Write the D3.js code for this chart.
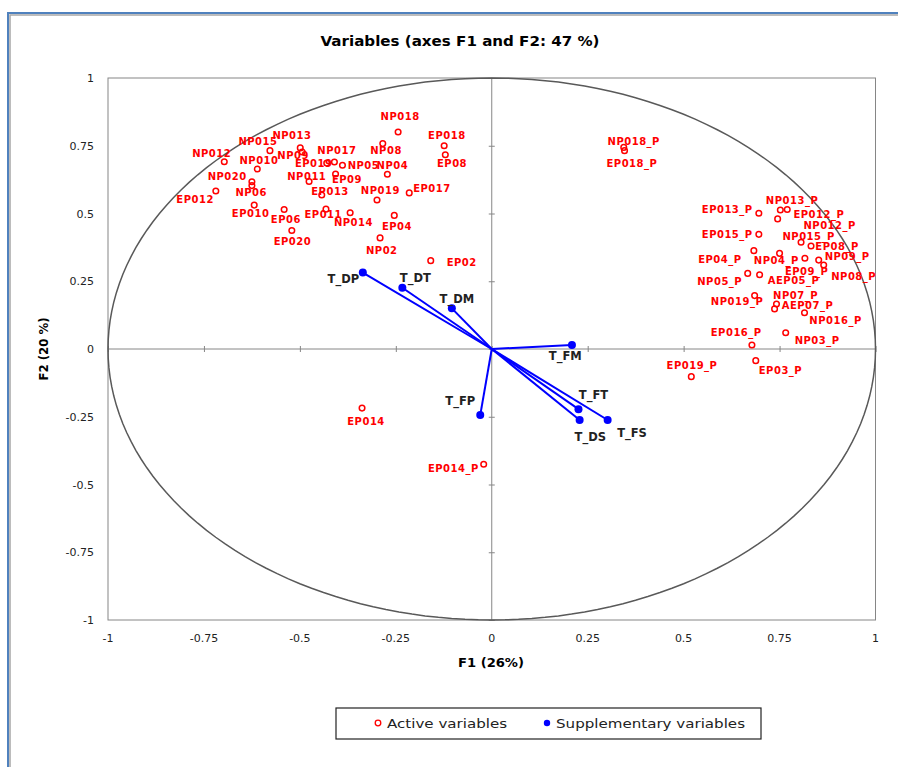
<!DOCTYPE html>
<html><head><meta charset="utf-8">
<script src="https://cdn.jsdelivr.net/npm/d3@7"></script>
<style>body{margin:0;background:#fff}</style>
</head><body>
<script>
// ---- data ----
const activeNames = ["NP012","NP015","NP013","NP09","NP010","NP020","NP06","EP012","EP010","EP06","EP020","NP011","EP019","NP017","NP05","NP04","EP09","EP013","NP019","EP017","EP011","NP014","EP04","NP02","EP02","NP018","EP018","EP08","NP08","EP014","EP014_P","NP018_P","EP018_P","EP013_P","NP013_P","EP012_P","NP012_P","EP015_P","NP015_P","EP08_P","EP04_P","NP04_P","EP09_P","NP09_P","NP08_P","NP05_P","AEP05_P","NP019_P","NP07_P","AEP07_P","NP016_P","EP016_P","NP03_P","EP03_P","EP019_P"];
const activeF1 = [-0.697,-0.578,-0.499,-0.494,-0.611,-0.625,-0.625,-0.719,-0.619,-0.541,-0.521,-0.476,-0.430,-0.410,-0.389,-0.272,-0.407,-0.443,-0.299,-0.215,-0.432,-0.369,-0.254,-0.291,-0.159,-0.244,-0.124,-0.121,-0.284,-0.338,-0.021,0.344,0.346,0.696,0.752,0.770,0.745,0.696,0.806,0.832,0.683,0.750,0.816,0.852,0.865,0.667,0.698,0.685,0.742,0.815,0.737,0.678,0.766,0.688,0.520];
const activeF2 = [0.691,0.732,0.742,0.727,0.664,0.617,0.603,0.583,0.531,0.515,0.437,0.618,0.686,0.690,0.678,0.645,0.646,0.568,0.550,0.576,0.516,0.503,0.493,0.410,0.326,0.801,0.750,0.717,0.758,-0.218,-0.425,0.744,0.732,0.501,0.513,0.515,0.480,0.423,0.394,0.380,0.363,0.353,0.335,0.328,0.310,0.279,0.274,0.197,0.166,0.134,0.148,0.015,0.060,-0.043,-0.102];

const suppNames = ["T_DP","T_DT","T_DM","T_FM","T_FP","T_FT","T_DS","T_FS"];
const suppF1 = [-0.336,-0.233,-0.104,0.209,-0.030,0.226,0.229,0.302];
const suppF2 = [0.282,0.226,0.150,0.015,-0.244,-0.222,-0.262,-0.262];

const tickValues = [-1,-0.75,-0.5,-0.25,0,0.25,0.5,0.75,1];
const tickLabels = ["-1","-0.75","-0.5","-0.25","0","0.25","0.5","0.75","1"];

const titleText = "Variables (axes F1 and F2: 47 %)";
const xTitle = "F1 (26%)";
const yTitle = "F2 (20 %)";
const legendLabels = ["Active variables","Supplementary variables"];

// ---- label layout (pixel offsets of label centre from the mark) ----
const activeLabelDx = [-12.6,-12,-8.3,-9,1.7,-24.7,-0.7,-20.7,-3.6,1.7,0.6,-2.3,-13,2.4,21,5,11.4,8.3,3.3,22.7,-2.7,3.3,2.7,1.7,31,2,2.7,6.7,3.3,4,-30.3,10,7.4,-31.6,11.7,31.6,52,-31.6,7.6,26,-34,-3.3,1.7,28.4,30,-28,34,-17.6,19,3,61,-15.7,31.4,24.7,0.7];
const activeLabelDy = [-8.4,-9.7,-13,3,-8.3,-5.7,7.3,8.3,8.3,9.7,11,-5.5,0,-12,0,-9,5,-3.3,-9.3,-4.7,5.7,10,10.7,12.7,1.6,-15.3,-10.7,8.6,7,13,4,-5.6,12.6,-4,-10,4.7,6.7,0,-5.6,0.7,8.6,7.4,13.4,-3.3,11,7.7,5.3,6,-9,-7,12,-12.7,7.3,10,-11];
const suppLabelDx = [-19.4,13,5,-6.7,-20,15,10.7,24.4];
const suppLabelDy = [6.6,-9.4,-9,11,-14.3,-14.3,16.7,13.3];

// ---- drawing ----
const W = 898, H = 767;
const svg = d3.select("body").append("svg").attr("width", W).attr("height", H);

// outer frame
svg.append("rect").attr("x",10).attr("y",15).attr("width",W).attr("height",H).attr("fill","none").attr("stroke","#a6a6a6").attr("stroke-width",1.5);
svg.append("rect").attr("x",8).attr("y",13).attr("width",W).attr("height",H).attr("fill","none").attr("stroke","#4f81bd").attr("stroke-width",2);

const x = d3.scaleLinear().domain([-1,1]).range([108,875.5]);
const y = d3.scaleLinear().domain([-1,1]).range([620,78]);
const grey = "#868686";

// plot box
svg.append("rect").attr("x",x(-1)).attr("y",y(1)).attr("width",x(1)-x(-1)).attr("height",y(-1)-y(1))
  .attr("fill","none").attr("stroke",grey).attr("stroke-width",1);

// zero axes with ticks using d3 axes
const xAxis = d3.axisBottom(x).tickValues(tickValues).tickSize(6).tickFormat("");
const gx = svg.append("g").attr("transform",`translate(0,${y(0)-3})`).call(xAxis);
const yAxis = d3.axisLeft(y).tickValues(tickValues).tickSize(6).tickFormat("");
const gy = svg.append("g").attr("transform",`translate(${x(0)+3},0)`).call(yAxis);
[gx,gy].forEach(g=>{g.select(".domain").remove(); g.selectAll("line").attr("stroke",grey);});
svg.append("line").attr("x1",x(-1)).attr("x2",x(1)).attr("y1",y(0)).attr("y2",y(0)).attr("stroke",grey);
svg.append("line").attr("x1",x(0)).attr("x2",x(0)).attr("y1",y(1)).attr("y2",y(-1)).attr("stroke",grey);

// tick labels
const tickFont = "'DejaVu Sans', sans-serif";
svg.append("g").selectAll("text").data(tickValues).join("text")
  .attr("x",d=>x(d)).attr("y",642).attr("text-anchor","middle")
  .attr("font-family",tickFont).attr("font-size",11).attr("fill","#222")
  .text((d,i)=>tickLabels[i]);
svg.append("g").selectAll("text").data(tickValues).join("text")
  .attr("x",94).attr("y",d=>y(d)+4).attr("text-anchor","end")
  .attr("font-family",tickFont).attr("font-size",11).attr("fill","#222")
  .text((d,i)=>tickLabels[i]);

// unit circle
const circ = d3.range(0,361,2).map(a=>[Math.cos(a*Math.PI/180),Math.sin(a*Math.PI/180)]);
svg.append("path").attr("d",d3.line().x(d=>x(d[0])).y(d=>y(d[1]))(circ))
  .attr("fill","none").attr("stroke","#595959").attr("stroke-width",1.5);

// titles
svg.append("text").attr("x",460).attr("y",46).attr("text-anchor","middle")
  .attr("font-family","'DejaVu Sans', sans-serif").attr("font-weight","bold").attr("font-size",14)
  .attr("textLength",279).attr("lengthAdjust","spacingAndGlyphs").text(titleText);
svg.append("text").attr("x",491).attr("y",667).attr("text-anchor","middle")
  .attr("font-family","'DejaVu Sans', sans-serif").attr("font-weight","bold").attr("font-size",13)
  .attr("textLength",66).attr("lengthAdjust","spacingAndGlyphs").text(xTitle);
svg.append("text").attr("transform","translate(48,349) rotate(-90)").attr("text-anchor","middle")
  .attr("font-family","'DejaVu Sans', sans-serif").attr("font-weight","bold").attr("font-size",13)
  .attr("textLength",63).attr("lengthAdjust","spacingAndGlyphs").text(yTitle);

// supplementary vectors
const supp = suppNames.map((n,i)=>({n, f1:suppF1[i], f2:suppF2[i], dx:suppLabelDx[i], dy:suppLabelDy[i]}));
svg.append("g").selectAll("line").data(supp).join("line")
  .attr("x1",x(0)).attr("y1",y(0)).attr("x2",d=>x(d.f1)).attr("y2",d=>y(d.f2))
  .attr("stroke","#0000ff").attr("stroke-width",2);
svg.append("g").selectAll("circle").data(supp).join("circle")
  .attr("cx",d=>x(d.f1)).attr("cy",d=>y(d.f2)).attr("r",4).attr("fill","#0000ff");
svg.append("g").selectAll("text").data(supp).join("text")
  .attr("x",d=>x(d.f1)+d.dx).attr("y",d=>y(d.f2)+d.dy).attr("dy","0.36em").attr("text-anchor","middle")
  .attr("font-family","'DejaVu Sans', sans-serif").attr("font-weight","bold").attr("font-size",11.5).attr("fill","#222")
  .text(d=>d.n);

// active variables
const act = activeNames.map((n,i)=>({n, f1:activeF1[i], f2:activeF2[i], dx:activeLabelDx[i], dy:activeLabelDy[i]}));
svg.append("g").selectAll("text").data(act).join("text")
  .attr("x",d=>x(d.f1)+d.dx).attr("y",d=>y(d.f2)+d.dy).attr("dy","0.36em").attr("text-anchor","middle")
  .attr("font-family","'DejaVu Sans', sans-serif").attr("font-weight","bold").attr("font-size",10)
  .attr("letter-spacing",0.5).attr("fill","#ff0000")
  .text(d=>d.n);
svg.append("g").selectAll("circle").data(act).join("circle")
  .attr("cx",d=>x(d.f1)).attr("cy",d=>y(d.f2)).attr("r",2.8)
  .attr("fill","none").attr("stroke","#ff0000").attr("stroke-width",1.5);

// legend
const lg = svg.append("g");
lg.append("rect").attr("x",336).attr("y",708).attr("width",425).attr("height",31)
  .attr("fill","#fff").attr("stroke","#222").attr("stroke-width",1.2);
lg.append("circle").attr("cx",378).attr("cy",723).attr("r",2.8).attr("fill","#fff").attr("stroke","#ff0000").attr("stroke-width",1.3);
lg.append("circle").attr("cx",547).attr("cy",723).attr("r",3.2).attr("fill","#0000ff");
lg.append("text").attr("x",387).attr("y",728).attr("font-family","'DejaVu Sans', sans-serif").attr("font-size",13)
  .attr("fill","#222").attr("textLength",120).attr("lengthAdjust","spacingAndGlyphs").text(legendLabels[0]);
lg.append("text").attr("x",556).attr("y",728).attr("font-family","'DejaVu Sans', sans-serif").attr("font-size",13)
  .attr("fill","#222").attr("textLength",189).attr("lengthAdjust","spacingAndGlyphs").text(legendLabels[1]);
</script>
</body></html>
